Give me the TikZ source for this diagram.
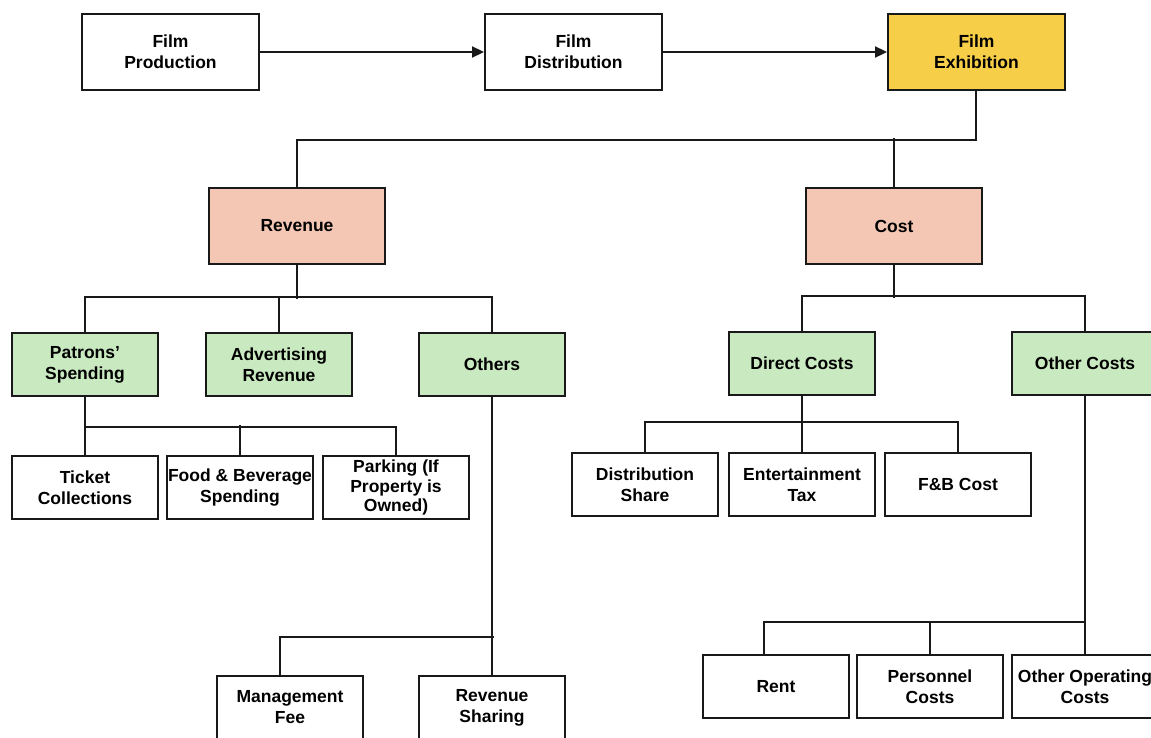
\documentclass[tikz,border=0pt]{standalone}
\usepackage{fontspec}
\setmainfont{Liberation Sans}
\usetikzlibrary{arrows.meta}
\definecolor{exhyellow}{RGB}{247,206,72}
\definecolor{salmon}{RGB}{244,199,181}
\definecolor{lgreen}{RGB}{201,233,192}
\definecolor{edge}{RGB}{25,25,25}
\tikzset{
  box/.style={draw=edge, line width=1.9pt, rectangle, inner sep=0pt, align=center,
    font=\fontsize{17.5}{21}\selectfont\bfseries},
  bigbox/.style={box, minimum width=177pt, minimum height=76pt},
  smallbox/.style={box, minimum width=146pt, minimum height=63pt,
    font=\fontsize{17.5}{21}\selectfont\bfseries},
  conn/.style={draw=edge, line width=1.9pt},
  arr/.style={conn, -{Triangle[length=12pt,width=11pt]}}
}
\begin{document}
\begin{tikzpicture}[x=1pt,y=-1pt]
\useasboundingbox (0,0) rectangle (1151,737);
\clip (0,0) rectangle (1151,737);
\fill[white] (0,0) rectangle (1151,737);
% top row
\node[bigbox] (prod) at (170.5,52) {Film\\Production};
\node[bigbox] (dist) at (573.5,52) {Film\\Distribution};
\node[bigbox, fill=exhyellow] (exh) at (976.5,52) {Film\\Exhibition};
% level 2
\node[bigbox, minimum width=176pt, fill=salmon] (rev) at (297,226) {Revenue};
\node[bigbox, minimum width=176pt, fill=salmon] (cost) at (894,226) {Cost};
% level 3
\node[smallbox, fill=lgreen] (pat) at (85,364.5) {Patrons’\\Spending};
\node[smallbox, fill=lgreen] (adv) at (279,364.5) {Advertising\\Revenue};
\node[smallbox, fill=lgreen] (oth) at (492,364.5) {Others};
\node[smallbox, fill=lgreen] (dc) at (802,363.5) {Direct Costs};
\node[smallbox, fill=lgreen] (oc) at (1085,363.5) {Other Costs};
% level 4
\node[smallbox] (tick) at (85,487.5) {Ticket\\Collections};
\node[smallbox] (food) at (240,487.5) {Food \& Beverage\\Spending};
\node[smallbox, font=\fontsize{17.5}{19.5}\selectfont\bfseries] (park) at (396,487.5) {Parking (If\\Property is\\Owned)};
\node[smallbox] (ds) at (645,484.5) {Distribution\\Share};
\node[smallbox] (et) at (802,484.5) {Entertainment\\Tax};
\node[smallbox] (fb) at (958,484.5) {F\&B Cost};
% level 5
\node[smallbox] (mf) at (290,707.5) {Management\\Fee};
\node[smallbox] (rs) at (492,707.5) {Revenue\\Sharing};
\node[smallbox] (rent) at (776,686.5) {Rent};
\node[smallbox] (pc) at (930,686.5) {Personnel\\Costs};
\node[smallbox] (ooc) at (1085,686.5) {Other Operating\\Costs};
% arrows
\draw[arr] (prod.east) -- (dist.west);
\draw[arr] (dist.east) -- (exh.west);
% exhibition to revenue/cost
\draw[conn] ([xshift=-0.5pt]exh.south) -- ++(0,49) -| (rev.north);
\draw[conn] (cost.north) -- ++(0,-49);
% revenue branch
\draw[conn] (rev.south) -- ++(0,34);
\draw[conn] (pat.north) -- ++(0,-35) -| (oth.north);
\draw[conn] (adv.north) -- ++(0,-35);
% patrons branch
\draw[conn] (pat.south) -- ++(0,30) -| (park.north);
\draw[conn] (food.north) -- ++(0,-30);
\draw[conn] (tick.north) -- ++(0,-30);
% others branch
\draw[conn] (oth.south) -- (rs.north);
\draw[conn] ([xshift=-10pt]mf.north) -- ++(0,-38) -- ++(214,0);
% cost branch
\draw[conn] (cost.south) -- ++(0,33);
\draw[conn] (dc.north) -- ++(0,-35) -| (oc.north);
% direct costs branch
\draw[conn] (dc.south) -- ++(0,28);
\draw[conn] (ds.north) -- ++(0,-30) -| (fb.north);
\draw[conn] (et.north) -- ++(0,-30);
% other costs branch
\draw[conn] (oc.south) -- (ooc.north);
\draw[conn] ([xshift=-12pt]rent.north) -- ++(0,-32) -- ++(321,0);
\draw[conn] (pc.north) -- ++(0,-32);
\end{tikzpicture}
\end{document}
